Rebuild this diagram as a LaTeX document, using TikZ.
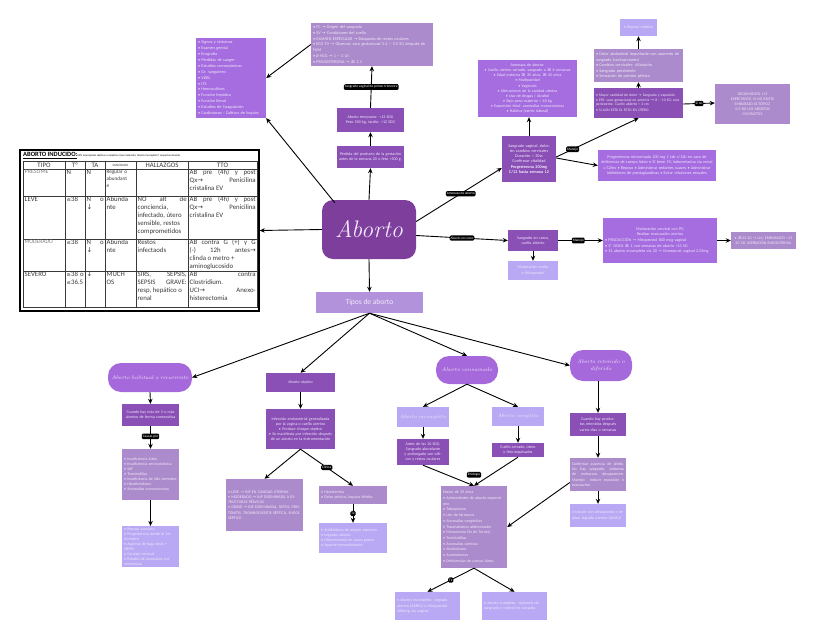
\documentclass[tikz,border=0pt]{standalone}
\usepackage{fontspec}
\newfontfamily\cf{Carlito}
\newfontfamily\dv{DejaVu Sans}
\usetikzlibrary{arrows.meta}
\definecolor{cMain}{HTML}{7E3E9C}
\definecolor{cDark}{HTML}{8A50B6}
\definecolor{cMed}{HTML}{A66DE0}
\definecolor{cMute}{HTML}{AC8BCC}
\definecolor{cLight}{HTML}{B9A8F3}
\definecolor{cTipos}{HTML}{B392DC}
\definecolor{cPill}{HTML}{A569DB}
\definecolor{cTxt}{HTML}{F1E8FA}
\definecolor{cTab}{HTML}{3A3A3A}
\newcommand\ra{{\dv →}}
\newcommand\lez{{\dv\fontsize{5.2}{6}\selectfont ≤}}
\newcommand\gez{{\dv\fontsize{5.2}{6}\selectfont ≥}}
\newcommand\dwn{{\dv ↓}}
\newcommand\bul{\textbullet\ }
\newcommand\mybox[7]{%
 \pgfmathsetmacro\bw{#4-#2}\pgfmathsetmacro\bh{#5-#3}\pgfmathsetmacro\tw{#4-#2-4}%
 \node[#6, minimum width=\bw pt, minimum height=\bh pt, text width=\tw pt] (#1) at ({(#2+#4)/2},{(#3+#5)/2}) {#7};}
\newcommand\tc[6]{%
 \pgfmathsetmacro\tw{#3-#2-3}%
 \node[tcell, text width=\tw pt, #5] (#1) at ({#2+1.5},{#4+0.6}) {#6};}
\tikzset{
 bx/.style={rectangle, inner sep=1.5pt, font=\cf\fontsize{4}{5.2}\selectfont, text=cTxt, align=center},
 dk/.style={bx, fill=cDark},
 md/.style={bx, fill=cMed},
 mu/.style={bx, fill=cMute},
 lt/.style={bx, fill=cLight},
 lft/.style={align=left},
 tag/.style={fill=black, text=white, rounded corners=1.3pt, inner xsep=1pt, inner ysep=1.4pt, font=\cf\fontsize{3.5}{3.8}\selectfont},
 arr/.style={-{Stealth[length=5pt,width=4.5pt]}, line width=0.9pt, black},
 pill/.style={bx, fill=cPill, rounded corners=13pt, font=\itshape\fontsize{5.4}{7}\selectfont},
 scr/.style={font=\itshape\fontsize{5}{6}\selectfont},
 tcell/.style={anchor=north west, inner sep=0pt, text=cTab, font=\cf\fontsize{6.8}{8}\selectfont, align=justify},
 thd/.style={text=cTab, inner sep=0pt, font=\cf\fontsize{6.8}{7.5}\selectfont}
}
\begin{document}
\begin{tikzpicture}[x=1pt,y=-1pt]
\fill[white] (0,0) rectangle (815,640);
\useasboundingbox (0,0) rectangle (815,640);

% ---------- main node
\node[fill=cMain, rounded corners=11pt, minimum width=94pt, minimum height=59pt, text=cTxt,
  font=\itshape\fontsize{24}{26}\selectfont] (ab) at (369,229.5) {Aborto};

% ---------- top-left list
\mybox{listL}{196}{38}{266}{118}{md,lft,font=\cf\fontsize{4.2}{5.9}\selectfont}{\bul Signos y síntomas\\ \bul Examen genital\\ \bul Ecografía\\ \bul Pérdidas de sangre\\ \bul Estudios cromosómicos\\ \bul Gr. sanguíneo\\ \bul VDRL\\ \bul ITS\\ \bul Hemocultivos\\ \bul Función hepática\\ \bul Función Renal\\ \bul Estudios de Coagulación\\ \bul Cardiotocos - Cultivos de loquios}

% ---------- top centre
\mybox{topC}{311}{23}{433}{66}{mu,lft,font=\cf\fontsize{4.2}{5.7}\selectfont}{\bul FC \ra{} Origen del sangrado\\ \bul SV \ra{} Condiciones del cuello\\ \bul EXAMEN ESPECULAR \ra{} Búsqueda de restos ovulares\\ \bul ECO TV \ra{} Observar saco gestacional 2.4 -- 5.5 SG después de FUM\\ \bul β-HCG \ra{} 1 -- 2 UI\\ \bul PROGESTERONA \ra\ \lez{} 1.5}
\mybox{temp}{337}{108}{404}{132}{dk}{Aborto temprano: \textless12 SDG\\ Peso 500 kg, tardío: \textgreater12 SDG}
\mybox{def}{337}{146}{404}{168}{dk}{Pérdida del producto de la gestación antes de la semana 20 o feto \textless500 g.}

% ---------- table
\node[draw, line width=1.4pt, minimum width=239pt, minimum height=161pt, inner sep=0pt] (tbl) at (139.5,230.5) {};
\draw[line width=0.5pt, cTab] (23,161) rectangle (257,307);
\foreach \yy in {169,196,239,271} \draw[line width=0.5pt, cTab] (23,\yy) -- (257,\yy);
\foreach \xx in {65,85,105,136,188} \draw[line width=0.5pt, cTab] (\xx,161) -- (\xx,307);
\node[anchor=west, inner sep=0pt, font=\cf\fontsize{6.5}{7}\selectfont] (ttl) at (23,155.5) {\textbf{\underline{ABORTO INDUCIDO:}}{\fontsize{2.7}{3}\selectfont 20\% incompletos sépticos o asépticos (casa inducido). Aborto incompleto? sospecha inducido.}};
\node[thd] (h1) at (44,165) {TIPO};
\node[thd] (h2) at (75,165) {Tº};
\node[thd] (h3) at (95,165) {TA};
\node[thd, font=\cf\fontsize{3.3}{4}\selectfont] (h4) at (120.5,165) {SANGRADO};
\node[thd] (h5) at (162,165) {HALLAZGOS};
\node[thd] (h6) at (222.5,165) {TTO};
% row PRESUME
\tc{a1}{23}{65}{169}{align=left, text=gray, font=\cf\fontsize{6}{8}\selectfont}{PRESUME}
\tc{a2}{65}{85}{169}{align=left}{N}
\tc{a3}{85}{105}{169}{align=left}{N}
\tc{a4}{105}{136}{169}{align=left, font=\cf\fontsize{5.2}{7}\selectfont}{Regular o abundant\\e}
\tc{a6}{188}{257}{169}{}{AB pre (4h) y post\linebreak Qx\ra\hfill Penicilina\\ cristalina EV}
% row LEVE
\tc{b1}{23}{65}{196}{align=left}{LEVE}
\tc{b2}{65}{85}{196}{align=left}{\lez38}
\tc{b3}{85}{105}{196}{align=left}{N\hfill o\\ \dwn}
\tc{b4}{105}{136}{196}{align=left}{Abunda\\nte}
\tc{b5}{136}{188}{196}{}{NO\hfill alt\hfill de\\ conciencia,\\ infectado, útero\\ sensible, restos\\ comprometidos}
\tc{b6}{188}{257}{196}{}{AB pre (4h) y post\linebreak Qx\ra\hfill Penicilina\\ cristalina EV}
% row MODERADO
\tc{c1}{23}{65}{239}{align=left, text=gray, font=\cf\fontsize{5.6}{8}\selectfont}{MODERADO}
\tc{c2}{65}{85}{239}{align=left}{\lez38}
\tc{c3}{85}{105}{239}{align=left}{N\hfill o\\ \dwn}
\tc{c4}{105}{136}{239}{align=left}{Abunda\\nte}
\tc{c5}{136}{188}{239}{align=left}{Restos\\ infectaods}
\tc{c6}{188}{257}{239}{}{AB contra G (+) y G\linebreak (-)\hfill 12h\hfill antes\ra\linebreak clinda o metro +\\ aminoglucosido}
% row SEVERO
\tc{d1}{23}{65}{271}{align=left}{SEVERO}
\tc{d2}{65}{85}{271}{align=left}{\gez38\hfill o\\ \lez36.5}
\tc{d3}{85}{105}{271}{align=left}{\dwn}
\tc{d4}{105}{136}{271}{align=left}{MUCH\\OS}
\tc{d5}{136}{188}{271}{}{SIRS,\hfill SEPSIS,\\ SEPSIS\hfill GRAVE:\\ resp, hepático o\\ renal}
\tc{d6}{188}{257}{271}{}{AB\hfill contra\\ Clostridium.\\ UCI\ra\hfill Anexo-\\ histerectomia}

% ---------- right upper branch
\mybox{amen}{478}{60}{577}{117}{md,font=\cf\fontsize{4}{5.1}\selectfont}{Amenaza de aborto:\\ \bul Cuello uterino cerrado, sangrado a \lez{} 6 semanas\\ \bul Edad materna \gez{} 35 años, \gez{} 40 años\\ \bul Multiparidad\\ \bul Vaginosis\\ \bul Alteraciones de la cavidad uterina\\ \bul Uso de drogas / Alcohol\\ \bul Bajo peso materno \textless{} 40 kg\\ \bul Exposición fetal: anomalías cromosómicas\\ \bul Hábitos (estrés laboral)}
\mybox{sang}{502}{136}{556}{182}{dk,font=\cf\fontsize{4.2}{5.2}\selectfont}{Sangrado vaginal, dolor, sin cambios cervicales\\ Duración \textless{} 20ss\\ Confirmar vitalidad\\ \textbf{Progesterona 200mg C/12 hasta semana 12}}
\mybox{rep}{620}{19}{657}{36}{lt}{\bul Reposo relativo}
\mybox{inevL}{594}{49}{683}{82}{mu,lft,font=\cf\fontsize{4.2}{5.4}\selectfont}{\bul Dolor abdominal importante con aumento de sangrado (contracciones)\\ \bul Cambios cervicales: dilatación\\ \bul Sangrado persistente\\ \bul Sensación de presión pélvica}
\mybox{inev}{594}{88}{683}{118}{dk,lft,font=\cf\fontsize{3.7}{4.6}\selectfont}{\bul Mayor cantidad de dolor \ra{} Sangrado y expulsión\\ \bul EFE: saco gestacional en anterior \ra{} 8 -- 10 SG: más persistente. Cuello abierto \textless{} 3 cm\\[1.5pt] \bul SI AÚN ESTÁ EL FETO EN ÚTERO}
\mybox{seg}{715}{84}{790}{124}{mu,font=\cf\fontsize{3.9}{5}\selectfont}{SEGUIMIENTO 1/3\\ EXPECTANTE, SI NO EXISTE\\ EMBARAZO ECTÓPICO\\ 2/3 DE LOS ABORTOS\\ COMPLETOS}
\mybox{prog}{598}{150}{716}{181}{md,font=\cf\fontsize{4.1}{5.3}\selectfont}{Progesterona micronizada 200 mg 1 tab c/12h en caso de deficiencia de cuerpo lúteo \bul El bene 1\% indometacina vía rectal c/12hrs \bul Reposo \bul Administrar sedantes suaves \bul Administrar inhibidores de prostaglandinas \bul Evitar relaciones sexuales}

% ---------- right lower branch
\mybox{curso}{508}{230}{558}{251}{dk}{Sangrado en curso, cuello abierto}
\mybox{mad}{508}{261}{558}{280}{lt}{Maduración cuello o Misoprostol}
\mybox{big}{603}{218}{717}{263}{md,lft,font=\cf\fontsize{4.1}{5.6}\selectfont}{\centering Maduración cervical con PG\\ Realizar evacuación uterina\\ \raggedright \bul PRODUCCIÓN \ra{} Misoprostol 800 mcg vaginal\\ \bul 3ª DOSIS \gez{} 1 con semanas de aborto \textgreater13 SG\\ \bul 13 aborto incompleto vía 20 \ra{} Gemeprost vaginal 2.25mg}
\mybox{leg}{731}{232}{796}{249}{mu,font=\cf\fontsize{3.9}{5}\selectfont}{\bul \lez12 SG \ra{} LUI, EMBARAZOS \textgreater12 SG DE ASPIRACIÓN ENDOUTERINA}

% ---------- tipos
\node[fill=cTipos, minimum width=107pt, minimum height=21pt, text=cTxt, inner sep=0pt, font=\cf\fontsize{7.5}{8}\selectfont] (tipos) at (369.5,302.5) {Tipos de aborto};

% ---------- habitual
\mybox{hab}{108}{363}{192}{392}{pill}{Aborto habitual o recurrente}
\mybox{hab1}{122}{404}{179}{426}{dk}{Cuando hay más de 3 o más abortos de forma consecutiva}
\mybox{hab2}{122}{449}{179}{500}{mu,lft,font=\cf\fontsize{4}{5}\selectfont}{\bul Insuficiencia lútea\\ \bul Insuficiencia cervicoístmica\\ \bul SAF\\ \bul Trombofilias\\ \bul Insuficiencia de 2do semestre\\ \bul Hipotiroidismo\\ \bul Anomalías cromosómicas}
\mybox{hab3}{122}{527}{179}{566}{lt,lft,font=\cf\fontsize{4}{5}\selectfont}{\bul Reposo absoluto\\ \bul Progesterona desde el 1er trimestre\\ \bul Aspirina de baja dosis + HBPM\\ \bul Cerclaje cervical\\ \bul Estudio de anomalías cromosómicas}

% ---------- septico
\mybox{sept}{266}{373}{335}{392}{dk}{Aborto séptico}
\mybox{sept1}{266}{409}{335}{449}{dk,font=\cf\fontsize{4}{5}\selectfont}{Infección endometrial generalizada por la vagina o cuello uterino\\ \bul Produce choque séptico\\ \bul Se manifiesta por infección después de un aborto en la instrumentación}
\mybox{septL}{226}{479}{303}{531}{mu,lft,font=\cf\fontsize{4}{5.3}\selectfont}{\bul LEVE \ra{} INF EN CAVIDAD UTERINA\\ \bul MODERADO \ra{} INF DISEMINADA A ESTRUCTURAS PÉLVICAS\\ \bul GRAVE \ra{} INF DISEMINADA, SEPSIS, PERITONITIS, TROMBOFLEBITIS SÉPTICA, SHOCK SÉPTICO}
\mybox{septR}{319}{486}{387}{504}{mu,lft}{\bul Hipertermia\\ \bul Dolor pélvico, loquios fétidos}
\mybox{septT}{319}{523}{387}{553}{lt,lft}{\bul Antibióticos de amplio espectro\\ \bul Legrado uterino\\ \bul Histerectomía en casos graves\\ \bul Soporte hemodinámico}

% ---------- consumado
\mybox{cons}{436}{356}{498}{384}{pill}{Aborto consumado}
\mybox{inc}{397}{407}{449}{427}{lt,scr}{Aborto incompleto}
\mybox{comp}{492}{407}{544}{426}{lt,scr}{Aborto completo}
\mybox{inc1}{397}{439}{449}{465}{dk}{Antes de las 10 SDG. Sangrado abundante y prolongado con cólicos y restos ovulares}
\mybox{comp1}{492}{443}{544}{457}{dk}{Cuello cerrado, útero y feto expulsados}
\mybox{risk}{441}{486}{507}{568}{mu,lft,font=\cf\fontsize{4}{5.7}\selectfont}{Mayor de 35 años\\ \bul Antecedentes de aborto espontáneo\\ \bul Tabaquismo\\ \bul Uso de fármacos\\ \bul Anomalías congénitas\\ \bul Traumatismos abdominales\\ \bul Monosomía (Sx de Turner)\\ \bul Trombofilias\\ \bul Anomalías uterinas\\ \bul Alcoholismo\\ \bul Autoinmunes\\ \bul Deficiencias de cuerpo lúteo}
\mybox{botL}{395}{592}{460}{620}{lt,lft}{\bul Aborto incompleto: Legrado uterino (AMEU) o Misoprostol 600mcg vía vaginal}
\mybox{botR}{482}{592}{547}{620}{lt,lft}{\bul Aborto completo: vigilancia de sangrado y control en consulta}

% ---------- retenido
\mybox{ret}{570}{350}{632}{381}{pill}{Aborto retenido o\\ diferido}
\mybox{ret1}{570}{413}{626}{436}{dk}{Cuando hay productos retenidos después varios días o semanas}
\mybox{ret2}{570}{458}{626}{491}{mu,align=justify,font=\cf\fontsize{4}{5.2}\selectfont}{Confirmar ausencia de latido. No hay sangrado, síntomas de embarazo desaparecen. Manejo: inducir expulsión o evacuación}
\mybox{ret3}{570}{504}{626}{527}{lt,lft}{\bul Inducir con misoprostol o realizar legrado uterino (AMEU)}

% ---------- connectors
\draw[arr] ([xshift=13pt,yshift=-3pt]ab.north west) -- (listL.south east);
\draw[arr] (topC.west) -- (listL.east);
\draw[arr] (ab.west) -- (tbl.east);
\draw[arr] (ab.north) -- (def.south);
\draw[arr] (def.north) -- (temp.south);
\draw[arr] (temp.north) -- node[tag, pos=0.5] (tg1) {Sangrado vaginal de primer trimestre} (topC.south);
\draw[arr] ([yshift=8pt]ab.east) -- node[tag, pos=0.52] (tg2) {Amenaza de aborto} ([yshift=-9pt]sang.west);
\draw[arr] (sang.north) -- (sang.north |- amen.south);
\draw[arr] ([yshift=2pt]sang.east) -- node[tag, pos=0.2] (tg3) {Manejo} (inev.south);
\draw[arr] ([yshift=1pt]sang.east) -- (prog.west);
\draw[arr] (inev.north) -- (inevL.south);
\draw[arr] (inevL.north) -- (rep.south);
\draw[arr] ([yshift=-1pt]inev.east) -- node[tag, pos=0.5] (tg4) {Si no} (inev.east -| seg.west);
\draw[arr] ([yshift=-6pt]ab.east) -- node[tag, pos=0.5] (tg5) {Aborto en curso} (curso.west);
\draw[arr] (curso.south) -- (mad.north);
\draw[arr] (curso.east) -- node[tag, pos=0.45] (tg6) {Manejo} (big.west);
\draw[arr] (big.east) -- (big.east -| leg.west);
\draw[arr] (ab.south) -- (tipos.north);
\draw[arr] (tipos.south) -- (hab.east);
\draw[arr] (tipos.south) -- (sept.north);
\draw[arr] (tipos.south) -- (cons.north);
\draw[arr] (tipos.south) -- (ret.west);
\draw[arr] (hab.south) -- (hab1.north);
\draw[arr] (hab1.south) -- node[tag, pos=0.45] (tg7) {Causas por} (hab2.north);
\draw[arr] (hab2.south) -- (hab3.north);
\draw[arr] (sept.south) -- (sept1.north);
\draw[arr] (sept1.south) -- (septL.north);
\draw[arr] (sept1.south) -- node[tag, pos=0.5] (tg8) {Clínica} (septR.north);
\draw[arr] (septR.south) -- node[tag, pos=0.5] (tg9) {Tx} (septT.north);
\draw[arr] (cons.south) -- (inc.north);
\draw[arr] (cons.south) -- (comp.north);
\draw[arr] (inc.south) -- (inc1.north);
\draw[arr] (comp.south) -- (comp1.north);
\draw[arr] (inc1.south) -- (risk.north);
\draw[arr] (comp1.south) -- (risk.north);
\node[tag] (tg10) at ([yshift=11pt]risk.north) {Etiología};
\draw[arr] ([yshift=-8pt]ret2.west) -- (risk.east);
\draw[arr] (risk.south) -- node[tag, pos=0.5] (tg11) {Tx} (botL.north);
\draw[arr] (risk.south) -- (botR.north);
\draw[arr] (ret1.north |- ret.south) -- (ret1.north);
\draw[arr] (ret1.south) -- (ret2.north);
\draw[arr] (ret2.south) -- (ret3.north);
\end{tikzpicture}
\end{document}
